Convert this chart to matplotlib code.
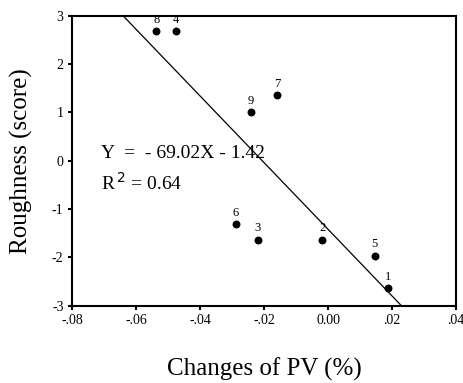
import numpy as np
import matplotlib
matplotlib.use("Agg")
import matplotlib.pyplot as plt

#################################################
#     Data
#################################################
labels = ["1", "2", "3", "4", "5", "6", "7", "8", "9"]
pv_change = [0.0188, -0.0018, -0.0219, -0.0476, 0.0146, -0.0289, -0.0158, -0.0536, -0.0240]
roughness = [-2.64, -1.64, -1.64, 2.68, -1.97, -1.32, 1.35, 2.68, 1.00]

slope = -69.02
intercept = -1.42
r_squared = 0.64

x_ticks = [-0.08, -0.06, -0.04, -0.02, 0.00, 0.02, 0.04]
x_tick_labels = ["-.08", "-.06", "-.04", "-.02", "0.00", ".02", ".04"]
y_ticks = [3, 2, 1, 0, -1, -2, -3]
y_tick_labels = ["3", "2", "1", "0", "-1", "-2", "-3"]

#################################################
#     Plot
#################################################
plt.rcParams["font.family"] = ["Liberation Serif", "DejaVu Serif"]

fig = plt.figure( figsize = ( 4.64, 3.83 ), dpi = 100 )
ax = fig.add_axes( [ 0.155, 0.202, 0.828, 0.757 ] )

ax.scatter( pv_change, roughness, s = 22, color = "black", zorder = 3 )
for lab, x, y in zip( labels, pv_change, roughness ):
    ax.annotate( lab, ( x, y ), xytext = ( 0, 4 ), textcoords = "offset points",
                 ha = "center", va = "bottom", fontsize = 9 )

# regression line, clipped to the axes box
x_line = np.array( [ -0.08, 0.04 ] )
ax.plot( x_line, slope * x_line + intercept, color = "black", linewidth = 0.9 )

ax.text( -0.071, 0.15, "Y  =  - 69.02X - 1.42", fontsize = 14, va = "center" )
ax.text( -0.071, -0.45, "R$^{\\,2}$ = %.2f" % r_squared, fontsize = 14, va = "center" )

ax.set_xlim( -0.08, 0.04 )
ax.set_ylim( -3, 3 )
ax.set_xticks( x_ticks )
ax.set_xticklabels( x_tick_labels )
ax.set_yticks( y_ticks )
ax.set_yticklabels( y_tick_labels )
ax.tick_params( direction = "out", length = 3, width = 1.5, labelsize = 10, pad = 3 )

for side in ax.spines.values():
    side.set_linewidth( 1.5 )

ax.set_xlabel( "Changes of PV (%)", fontsize = 18, labelpad = 22 )
ax.set_ylabel( "Roughness (score)", fontsize = 18, labelpad = 14 )

fig.savefig( "out.png", dpi = 100 )
